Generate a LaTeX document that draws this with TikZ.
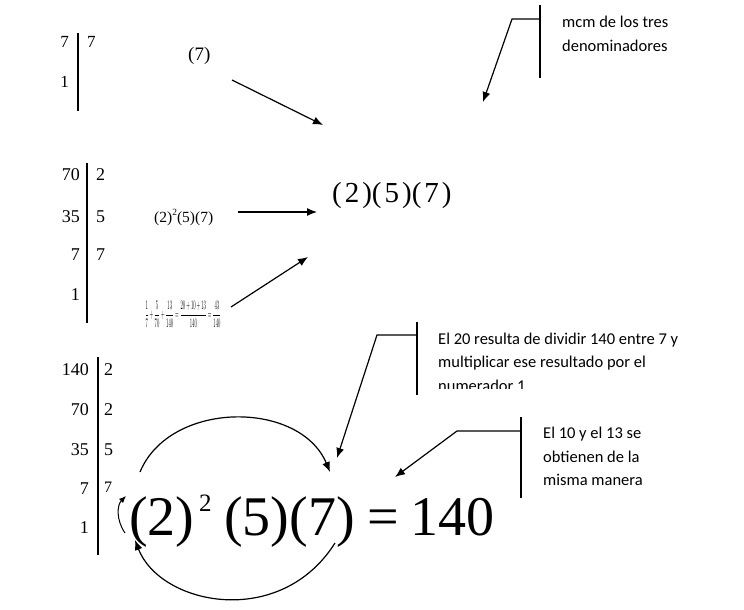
\documentclass[tikz,border=0pt]{standalone}
\usepackage{fontspec}
\usepackage{amsmath}
\usepackage{graphicx}
\setmainfont{Liberation Serif}
\newfontfamily\calibri{Carlito}
\usetikzlibrary{arrows.meta}
\begin{document}
\begin{tikzpicture}[x=1pt,y=-1pt,
 num/.style={inner sep=0pt, font=\fontsize{18}{18}\selectfont},
 numL/.style={num, anchor=base east},
 numR/.style={num, anchor=base west},
 bar/.style={line width=1.1pt},
 arr/.style={line width=1.2pt, -{Latex[length=10pt,width=8pt]}},
 arrs/.style={line width=1pt, -{Latex[length=7pt,width=6pt]}},
 callbar/.style={line width=1.6pt},
 note/.style={inner sep=0pt, anchor=base west, font=\calibri\fontsize{16.5}{16.5}\selectfont},
 eq/.style={inner sep=0pt, anchor=base west},
]
\useasboundingbox (0,0) rectangle (744,610);

% top factorisation
\node[numL, font=\fontsize{17}{17}\selectfont] (t1) at (69,48) {7};
\node[numR, font=\fontsize{17}{17}\selectfont] (t2) at (87,48) {7};
\node[numL, font=\fontsize{17}{17}\selectfont] (t3) at (69,88) {1};
\draw[bar] (78,33) -- (78,111);
\node[eq, font=\fontsize{19}{19}\selectfont] (p7) at (188,60) {(7)};
\coordinate (a1s) at (232,80);
\coordinate (a1e) at (323,125);
\draw[arr] (a1s) -- (a1e);

% middle factorisation
\node[numL] (m1) at (80,180) {70};
\node[numR] (m2) at (96,180) {2};
\node[numL] (m3) at (80,222) {35};
\node[numR] (m4) at (96,222) {5};
\node[numL] (m5) at (80,260) {7};
\node[numR] (m6) at (96,260) {7};
\node[numL] (m7) at (80,300) {1};
\draw[bar] (87,163) -- (87,323);

\node[eq, font=\fontsize{15.5}{15.5}\selectfont] (small) at (154,222)
  {(2)\raisebox{6.5pt}{\fontsize{9.5}{9.5}\selectfont 2}(5)(7)};
\coordinate (a2s) at (238,212);
\coordinate (a2e) at (317,212);
\draw[arr] (a2s) -- (a2e);

\node[inner sep=0pt, anchor=center] (frac) at (183,314)
  {\resizebox*{76pt}{26pt}{$\dfrac{1}{7}+\dfrac{5}{70}+\dfrac{13}{140}=\dfrac{20+10+13}{140}=\dfrac{43}{140}$}};
\coordinate (a3s) at (231,307);
\coordinate (a3e) at (308,257);
\draw[arr] (a3s) -- (a3e);

\node[eq, font=\fontsize{29}{29}\selectfont] (big) at (332,202)
  {(\hspace{3pt}2\hspace{3pt})(\hspace{3pt}5\hspace{3pt})(\hspace{3pt}7\hspace{3pt})};

% callout 1
\draw[callbar] (540,5) -- (540,78);
\coordinate (c1a) at (540,19);
\coordinate (c1b) at (512,19);
\coordinate (c1c) at (483,102);
\draw[arr] (c1a) -- (c1b) -- (c1c);
\node[note] (n1a) at (562,28) {mcm de los tres};
\node[note] (n1b) at (562,52) {denominadores};

% bottom factorisation
\node[numL] (b1) at (89,375) {140};
\node[numR] (b2) at (104,375) {2};
\node[numL] (b3) at (89,415) {70};
\node[numR] (b4) at (104,415) {2};
\node[numL] (b5) at (89,455) {35};
\node[numR] (b6) at (104,455) {5};
\node[numL] (b7) at (89,494) {7};
\node[numR, font=\fontsize{16}{16}\selectfont] (b8) at (104,492) {7};
\node[numL] (b9) at (89,533) {1};
\draw[bar] (98,357) -- (98,555);

% big equation
\node[eq, font=\fontsize{56}{56}\selectfont] (e1) at (129,535) {(2)};
\node[eq, font=\fontsize{25}{25}\selectfont] (e2) at (199,511) {2};
\node[eq, font=\fontsize{56}{56}\selectfont] (e3) at (224,535) {(5)(7)};
\node[eq, font=\fontsize{56}{56}\selectfont] (e4) at (367,535) {=};
\node[eq, font=\fontsize{56}{56}\selectfont] (e5) at (410,535) {140};

% curved arrows
\coordinate (u1) at (140,472);
\coordinate (u2) at (330,472);
\draw[arr] (u1) .. controls (170,400) and (300,400) .. (u2);
\coordinate (l1) at (335,543);
\coordinate (l2) at (135,540);
\draw[arr] (l1) .. controls (280,630) and (160,605) .. (l2);
\coordinate (s1) at (125,533);
\coordinate (s2) at (126,496);
\draw[arrs] (s1) .. controls (116,520) and (117,505) .. (s2);

% callout 2
\draw[callbar] (417,322) -- (417,395);
\coordinate (c2a) at (417,335);
\coordinate (c2b) at (377,335);
\coordinate (c2c) at (337,458);
\draw[arr] (c2a) -- (c2b) -- (c2c);
\node[note] (n2a) at (438,344) {El 20 resulta de dividir 140 entre 7 y};
\node[note] (n2b) at (438,367) {multiplicar ese resultado por el};
\begin{scope}
\clip (430,370) rectangle (730,388);
\node[note] (n2c) at (438,391) {numerador 1};
\end{scope}

% callout 3
\draw[callbar] (521,417) -- (521,498);
\coordinate (c3a) at (521,431);
\coordinate (c3b) at (457,431);
\coordinate (c3c) at (395,477);
\draw[arr] (c3a) -- (c3b) -- (c3c);
\node[note] (n3a) at (543,438) {El 10 y el 13 se};
\node[note] (n3b) at (543,462) {obtienen de la};
\node[note] (n3c) at (543,485) {misma manera};
\end{tikzpicture}
\end{document}
